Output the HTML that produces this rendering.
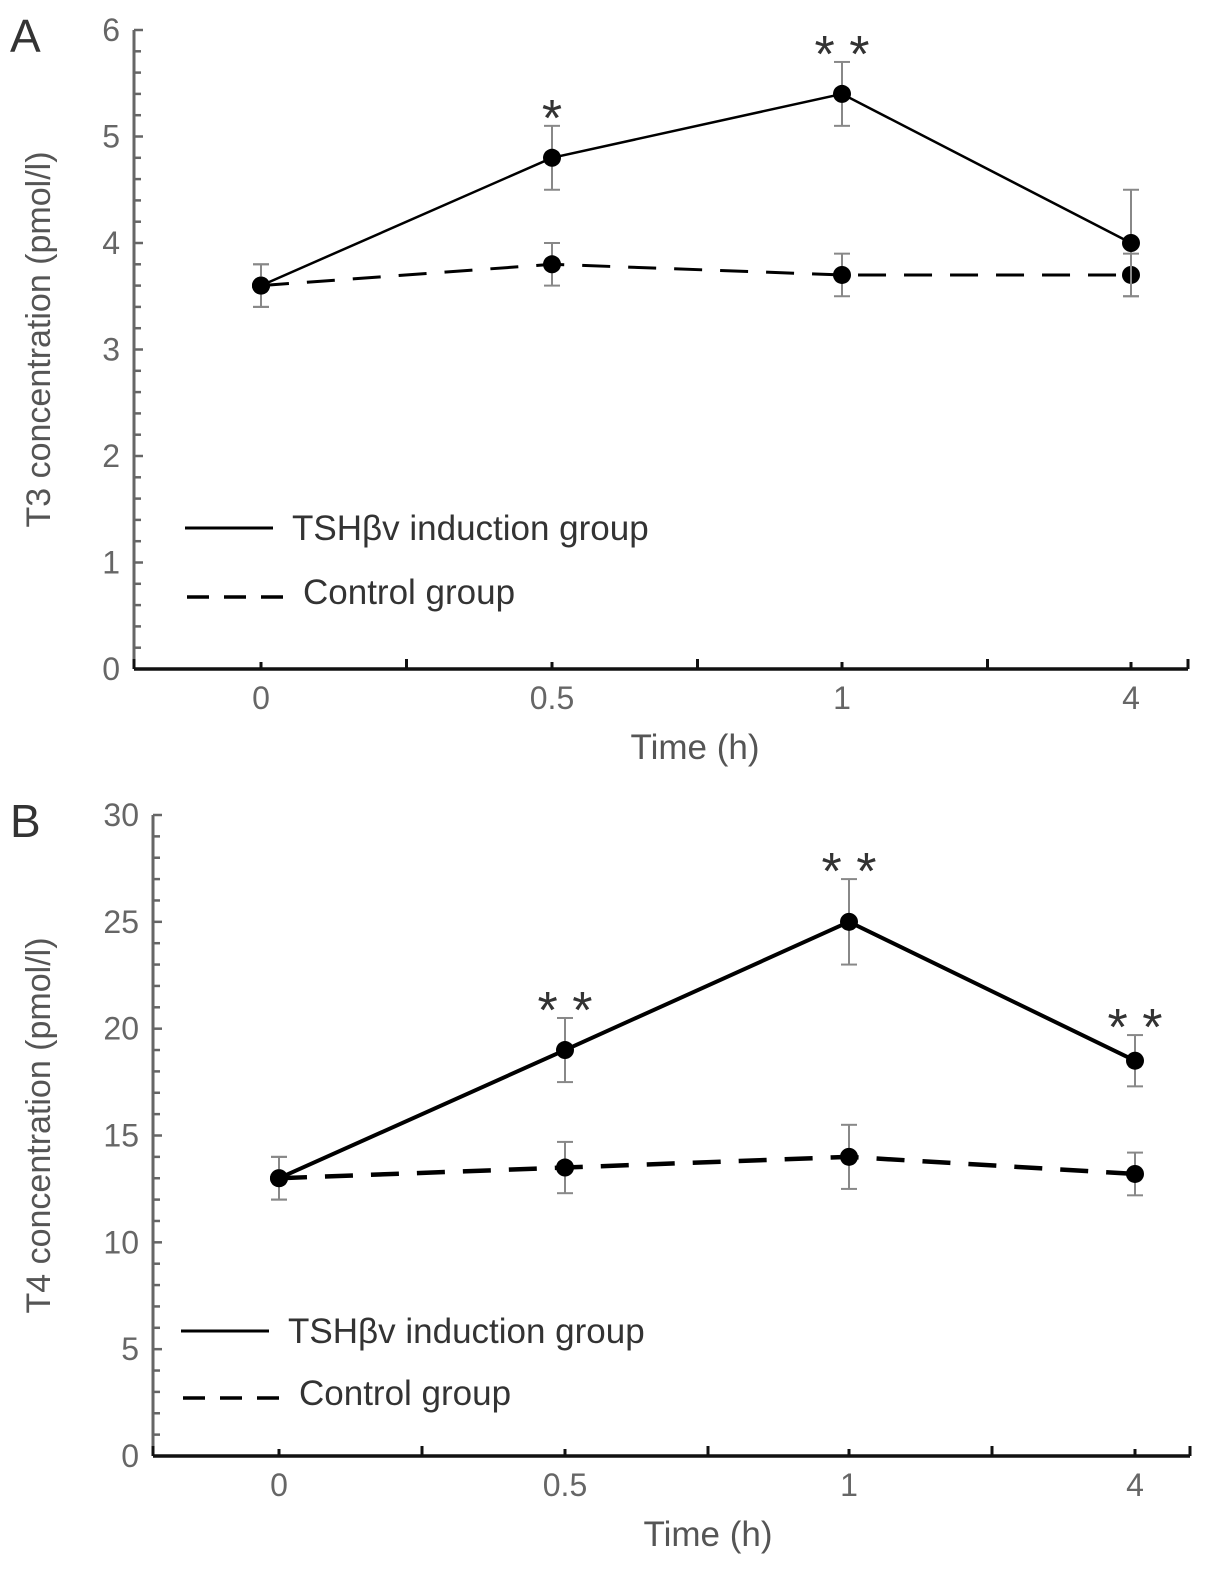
<!DOCTYPE html>
<html><head><meta charset="utf-8">
<style>
body{margin:0;background:#fff;}
svg text{font-family:"Liberation Sans",sans-serif;}
</style></head>
<body>
<svg id="chart" width="1205" height="1566" viewBox="0 0 1205 1566" xmlns="http://www.w3.org/2000/svg"></svg>
<script>
const categories = ["0","0.5","1","4"];
const t3Tsh = [3.6, 4.8, 5.4, 4.0];
const t3TshErr = [0.2, 0.3, 0.3, 0.5];
const t3Ctrl = [3.6, 3.8, 3.7, 3.7];
const t3CtrlErr = [0.2, 0.2, 0.2, 0.2];
const t3Stars = ["", "*", "* *", ""];
const t3Ticks = [0,1,2,3,4,5,6];
const t4Tsh = [13, 19, 25, 18.5];
const t4TshErr = [1, 1.5, 2, 1.2];
const t4Ctrl = [13, 13.5, 14, 13.2];
const t4CtrlErr = [1, 1.2, 1.5, 1.0];
const t4Stars = ["", "* *", "* *", "* *"];
const t4Ticks = [0,5,10,15,20,25,30];

const svg = document.getElementById('chart');
const NS = 'http://www.w3.org/2000/svg';
function mk(tag, attrs, parent){
  const e = document.createElementNS(NS, tag);
  for (const k in attrs) e.setAttribute(k, attrs[k]);
  (parent||svg).appendChild(e);
  return e;
}

function panel(p){
  const g = mk('g', {});
  
  
  const yMax = p.ticks[p.ticks.length-1];
  const ys = v => p.y0 - (v/yMax)*(p.y0 - p.yTop);
  const xs = i => p.xc[i];
  const L = mk('text', {x:10, y:p.yTop+22, 'font-size':46, fill:'#333'}, g);
  L.textContent = p.letter;
  
  
  const ya = mk('line', {x1:p.xAxis, y1:p.yTop, x2:p.xAxis, y2:p.y0, stroke:'#666', 'stroke-width':3}, g);
  
  
  const step = p.ticks[1]-p.ticks[0];
  const nMinor = 5;
  for (let k=0;k<=(p.ticks.length-1)*nMinor;k++){
    const v = k*step/nMinor;
    mk('line', {x1:p.xAxis, y1:ys(v), x2:p.xAxis+(k%nMinor===0?9:7), y2:ys(v), stroke:'#666', 'stroke-width':2.5}, g);
  }
  p.ticks.forEach(v=>{
    const t = mk('text', {x:p.xAxis-14, y:ys(v)+11, 'font-size':32, fill:'#666', 'text-anchor':'end'}, g);
    t.textContent = v;
    
    
  });
  const xa = mk('line', {x1:p.xAxis, y1:p.y0, x2:p.xEnd, y2:p.y0, stroke:'#111', 'stroke-width':3.5}, g);
  
  
  const half = (p.xc[1]-p.xc[0])/2;
  const tx = [p.xAxis];
  p.xc.forEach((c,i)=>{tx.push(c); if(i<p.xc.length-1) tx.push(c+half);});
  tx.push(p.xEnd);
  tx.forEach((x,i)=>{mk('line', {x1:x, y1:p.y0, x2:x, y2:p.y0-(i%2===0?10:7), stroke:'#111', 'stroke-width':3}, g);});
  categories.forEach((c,i)=>{
    const t = mk('text', {x:xs(i), y:p.y0+40, 'font-size':32, fill:'#666', 'text-anchor':'middle'}, g);
    t.textContent = c;
    
    
  });
  const xt = mk('text', {x:p.xc[1]+143, y:p.y0+90, 'font-size':35, fill:'#555', 'text-anchor':'middle'}, g);
  xt.textContent = 'Time (h)';
  
  
  const yt = mk('text', {x:0, y:0, 'font-size':34, fill:'#555', 'text-anchor':'middle', transform:`translate(50,${(p.yTop+p.y0)/2-10}) rotate(-90)`}, g);
  yt.textContent = p.yTitle;
  
  
  function series(vals, errs, dash, name, lw){
    const sg = mk('g', {}, g);
    
    
    vals.forEach((v,i)=>{
      const e = errs[i];
      mk('line', {x1:xs(i), y1:ys(v+e), x2:xs(i), y2:ys(v-e), stroke:'#888', 'stroke-width':2}, sg);
      mk('line', {x1:xs(i)-8, y1:ys(v+e), x2:xs(i)+8, y2:ys(v+e), stroke:'#888', 'stroke-width':2}, sg);
      mk('line', {x1:xs(i)-8, y1:ys(v-e), x2:xs(i)+8, y2:ys(v-e), stroke:'#888', 'stroke-width':2}, sg);
    });
    const pts = vals.map((v,i)=>xs(i)+','+ys(v)).join(' ');
    const pl = mk('polyline', {points:pts, fill:'none', stroke:'#000', 'stroke-width':lw}, sg);
    if (dash) pl.setAttribute('stroke-dasharray', dash);
    
    
    vals.forEach((v,i)=>{
      const c = mk('circle', {cx:xs(i), cy:ys(v), r:9, fill:'#000'}, sg);
      
      
    });
  }
  series(p.ctrl, p.ctrlErr, '28,18', 'control-series', p.lw+0.5);
  series(p.tsh, p.tshErr, null, 'tsh-series', p.lw);
  p.stars.forEach((s,i)=>{
    if(!s) return;
    const t = mk('text', {x:xs(i), y:ys(p.tsh[i]+p.tshErr[i]) + 10, 'font-size':52, fill:'#333', 'text-anchor':'middle'}, g);
    t.textContent = s;
    
    
  });
  const lg = mk('g', {}, g);
  
  
  mk('line', {x1:p.leg.x, y1:p.leg.y1, x2:p.leg.x+88, y2:p.leg.y1, stroke:'#000', 'stroke-width':3}, lg);
  const l1 = mk('text', {x:p.leg.x+107, y:p.leg.y1+12, 'font-size':35, fill:'#333'}, lg);
  l1.textContent = 'TSHβv induction group';
  
  
  mk('line', {x1:p.leg.x+2, y1:p.leg.y2, x2:p.leg.x+98, y2:p.leg.y2, stroke:'#000', 'stroke-width':3.5, 'stroke-dasharray':'22,15'}, lg);
  const l2 = mk('text', {x:p.leg.x+118, y:p.leg.y2+7, 'font-size':35, fill:'#333'}, lg);
  l2.textContent = 'Control group';
  
  
}

panel({name:'panel-a-t3', letter:'A', xAxis:134, xEnd:1188, yTop:30, y0:669, xc:[261,552,842,1131],
  ticks:t3Ticks, tsh:t3Tsh, tshErr:t3TshErr, ctrl:t3Ctrl, ctrlErr:t3CtrlErr, stars:t3Stars,
  yTitle:'T3 concentration (pmol/l)', lw:2.5, leg:{x:185, y1:528, y2:597}});
panel({name:'panel-b-t4', letter:'B', xAxis:153, xEnd:1190, yTop:815, y0:1456, xc:[279,565,849,1135],
  ticks:t4Ticks, tsh:t4Tsh, tshErr:t4TshErr, ctrl:t4Ctrl, ctrlErr:t4CtrlErr, stars:t4Stars,
  yTitle:'T4 concentration (pmol/l)', lw:4, leg:{x:181, y1:1331, y2:1398}});
</script>
</body></html>
